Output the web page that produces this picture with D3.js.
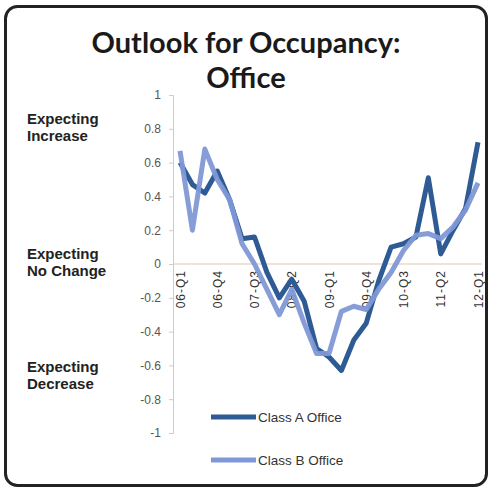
<!DOCTYPE html>
<html lang="en">
  <head>
    <meta charset="UTF-8" />
    <title>Outlook for Occupancy: Office</title>
    <style>
      body {
        margin: 0;
        background: #fff;
      }
      svg text {
        font-family: "Liberation Sans", Arial, sans-serif;
      }
      .title {
        font-family: "Lato", "Open Sans", sans-serif !important;
        font-weight: 700;
        font-size: 29px;
        fill: #1a1a1a;
      }
      .side {
        font-weight: 700;
        font-size: 15px;
        fill: #222;
      }
      .y-axis text {
        font-size: 12px;
        fill: #555;
      }
      .x-axis text {
        font-size: 12px;
        fill: #333;
        letter-spacing: 1px;
      }
      .legend text {
        font-size: 13.5px;
        fill: #333;
      }
    </style>
    <script src="https://cdnjs.cloudflare.com/ajax/libs/d3/7.8.5/d3.min.js"></script>
  </head>
  <body>
    <script>
      const quarters = [
        "06-Q1", "06-Q2", "06-Q3", "06-Q4",
        "07-Q1", "07-Q2", "07-Q3", "07-Q4",
        "08-Q1", "08-Q2", "08-Q3", "08-Q4",
        "09-Q1", "09-Q2", "09-Q3", "09-Q4",
        "10-Q1", "10-Q2", "10-Q3", "10-Q4",
        "11-Q1", "11-Q2", "11-Q3", "11-Q4",
        "12-Q1",
      ];
      const classA = [
        0.6, 0.47, 0.42, 0.55, 0.38, 0.15, 0.16, -0.05, -0.2, -0.09,
        -0.22, -0.5, -0.55, -0.63, -0.45, -0.35, -0.1, 0.1, 0.12, 0.16,
        0.51, 0.06, 0.2, 0.33, 0.72,
      ];
      const classB = [
        0.67, 0.2, 0.68, 0.5, 0.38, 0.12, 0.0, -0.15, -0.3, -0.15,
        -0.35, -0.53, -0.53, -0.28, -0.25, -0.27, -0.15, -0.05, 0.08, 0.17,
        0.18, 0.15, 0.22, 0.32, 0.48,
      ];
      const yTicks = [1, 0.8, 0.6, 0.4, 0.2, 0, -0.2, -0.4, -0.6, -0.8, -1];
      const xTickLabels = ["06-Q1", "06-Q4", "07-Q3", "08-Q2", "09-Q1", "09-Q4", "10-Q3", "11-Q2", "12-Q1"];
      const sideLabels = [
        { lines: ["Expecting", "Increase"], v: 0.8 },
        { lines: ["Expecting", "No Change"], v: 0 },
        { lines: ["Expecting", "Decrease"], v: -0.67 },
      ];
      const seriesNames = ["Class A Office", "Class B Office"];
      const colors = ["#2f5b95", "#7f98d6"];

      const W = 491, H = 493;
      const svg = d3.select("body").append("svg").attr("width", W).attr("height", H);

      // frame
      svg.append("rect")
        .attr("x", 5.5).attr("y", 6.5)
        .attr("width", 481).attr("height", 479)
        .attr("rx", 12)
        .attr("fill", "#fff")
        .attr("stroke", "#222")
        .attr("stroke-width", 3);

      // title
      svg.append("text").attr("class", "title")
        .attr("x", 246).attr("y", 53).attr("text-anchor", "middle")
        .text("Outlook for Occupancy:");
      svg.append("text").attr("class", "title")
        .attr("x", 246).attr("y", 88).attr("text-anchor", "middle")
        .text("Office");

      const x = d3.scalePoint().domain(quarters).range([180, 478]);
      const y = d3.scaleLinear().domain([-1, 1]).range([433, 95]);

      // zero line
      svg.append("line")
        .attr("x1", 173).attr("x2", 482)
        .attr("y1", y(0)).attr("y2", y(0))
        .attr("stroke", "#ecd9cc").attr("stroke-width", 1.5);

      // y axis
      const yAxis = svg.append("g").attr("class", "y-axis")
        .attr("transform", "translate(173,0)")
        .call(d3.axisLeft(y).tickValues(yTicks).tickSize(4).tickPadding(8)
          .tickFormat((d) => String(+d.toFixed(1))));
      yAxis.selectAll("line").attr("stroke", "#ccc");
      yAxis.select(".domain").attr("stroke", "#ccc");

      // x axis labels
      const xAxis = svg.append("g").attr("class", "x-axis")
        .attr("transform", "translate(0," + y(0) + ")")
        .call(d3.axisBottom(x).tickValues(xTickLabels).tickSize(0));
      xAxis.select(".domain").remove();
      xAxis.selectAll("text")
        .attr("transform", "rotate(-90)")
        .attr("text-anchor", "end")
        .attr("x", -6)
        .attr("y", 0)
        .attr("dy", "0.35em");

      // side labels
      sideLabels.forEach((s) => {
        const t = svg.append("text").attr("class", "side")
          .attr("x", 27).attr("y", y(s.v) - 5);
        s.lines.forEach((l, i) => {
          t.append("tspan").attr("x", 27).attr("dy", i === 0 ? 0 : 17).text(l);
        });
      });

      // lines
      const line = d3.line()
        .x((d, i) => x(quarters[i]))
        .y((d) => y(d));
      [classA, classB].forEach((s, k) => {
        svg.append("path")
          .datum(s)
          .attr("fill", "none")
          .attr("stroke", colors[k])
          .attr("stroke-width", 5)
          .attr("stroke-linejoin", "round")
          .attr("opacity", k === 1 ? 0.95 : 1)
          .attr("d", line);
      });

      // legend
      const legend = svg.append("g").attr("class", "legend");
      seriesNames.forEach((name, k) => {
        const ly = 417 + k * 43;
        legend.append("line")
          .attr("x1", 211).attr("x2", 256)
          .attr("y1", ly).attr("y2", ly)
          .attr("stroke", colors[k]).attr("stroke-width", 5);
        legend.append("text")
          .attr("x", 258).attr("y", ly + 5)
          .text(name);
      });
    </script>
  </body>
</html>
